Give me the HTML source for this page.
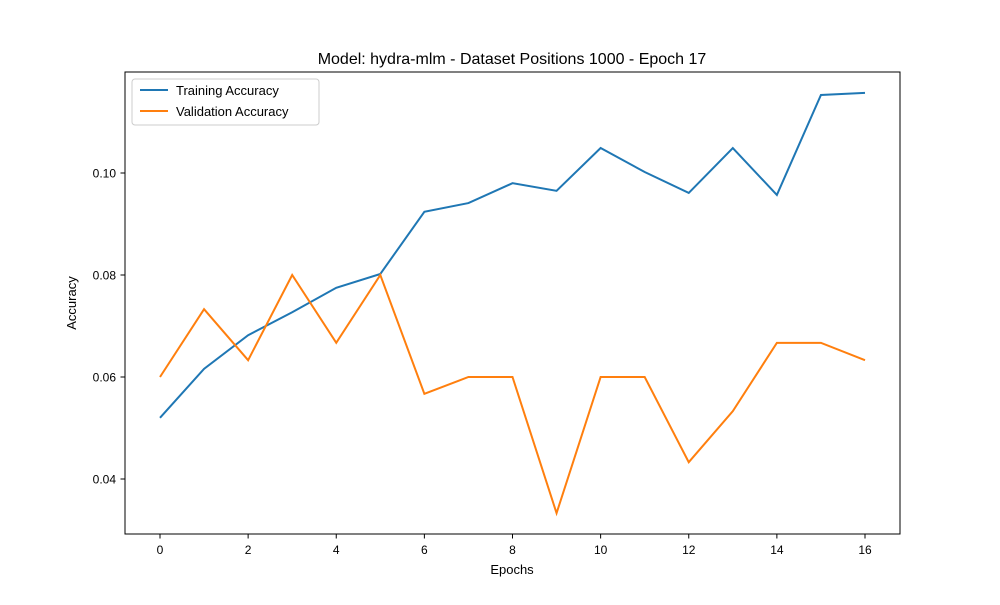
<!DOCTYPE html>
<html><head><meta charset="utf-8"><style>
body{margin:0;background:#fff;}
svg{font-family:"Liberation Sans","DejaVu Sans",sans-serif;}
</style></head><body>
<svg id="chart" width="1000" height="600">
<rect width="1000" height="600" fill="#fff"/>
<text x="512" y="64" font-size="16" text-anchor="middle">Model: hydra-mlm - Dataset Positions 1000 - Epoch 17</text>
<g id="axes"></g>
<rect x="125" y="72" width="775" height="462" fill="none" stroke="#000" stroke-width="1"/>
<text x="512" y="574" font-size="13" text-anchor="middle">Epochs</text>
<text x="0" y="0" font-size="13" text-anchor="middle" transform="translate(76,303) rotate(-90)">Accuracy</text>
<g>
<rect x="132" y="79" width="187" height="46" rx="3" fill="#fff" stroke="#ccc"/>
<line x1="140" y1="90" x2="168" y2="90" stroke="#1f77b4" stroke-width="2"/>
<text x="176" y="95" font-size="13">Training Accuracy</text>
<line x1="140" y1="111" x2="168" y2="111" stroke="#ff7f0e" stroke-width="2"/>
<text x="176" y="116" font-size="13">Validation Accuracy</text>
</g>
</svg>
<script>
const epochs=[0,1,2,3,4,5,6,7,8,9,10,11,12,13,14,15,16];
const trainAcc=[0.052,0.0616,0.0682,0.0727,0.0775,0.0802,0.0924,0.0941,0.098,0.0965,0.1049,0.1002,0.0961,0.1049,0.0957,0.1153,0.1157];
const valAcc=[0.06,0.0733,0.0633,0.08,0.0667,0.08,0.0567,0.06,0.06,0.0333,0.06,0.06,0.0433,0.0533,0.0667,0.0667,0.0633];
const xTicks=[0,2,4,6,8,10,12,14,16];
const yTicks=[0.04,0.06,0.08,0.10];
const NS="http://www.w3.org/2000/svg";
const xs=v=>160+v*(865-160)/16;
const ys=v=>173+(0.10-v)*5100;
const g=document.getElementById('axes');
function mk(t,a){const e=document.createElementNS(NS,t);for(const k in a)e.setAttribute(k,a[k]);g.appendChild(e);return e;}
xTicks.forEach(t=>{
 const l=mk('line',{x1:xs(t),x2:xs(t),y1:534,y2:538.5,stroke:'#000'});
 
 
 const tx=mk('text',{x:xs(t),y:554,'font-size':12,'text-anchor':'middle'});tx.textContent=t;
 
 
});
yTicks.forEach(t=>{
 const l=mk('line',{x1:120.5,x2:125,y1:ys(t),y2:ys(t),stroke:'#000'});
 
 
 const tx=mk('text',{x:116,y:ys(t)+4.5,'font-size':12,'text-anchor':'end'});tx.textContent=t.toFixed(2);
 
 
});
const p1=mk('polyline',{points:epochs.map((e,i)=>xs(e)+','+ys(trainAcc[i])).join(' '),fill:'none',stroke:'#1f77b4','stroke-width':2});


const p2=mk('polyline',{points:epochs.map((e,i)=>xs(e)+','+ys(valAcc[i])).join(' '),fill:'none',stroke:'#ff7f0e','stroke-width':2});


</script>
</body></html>
